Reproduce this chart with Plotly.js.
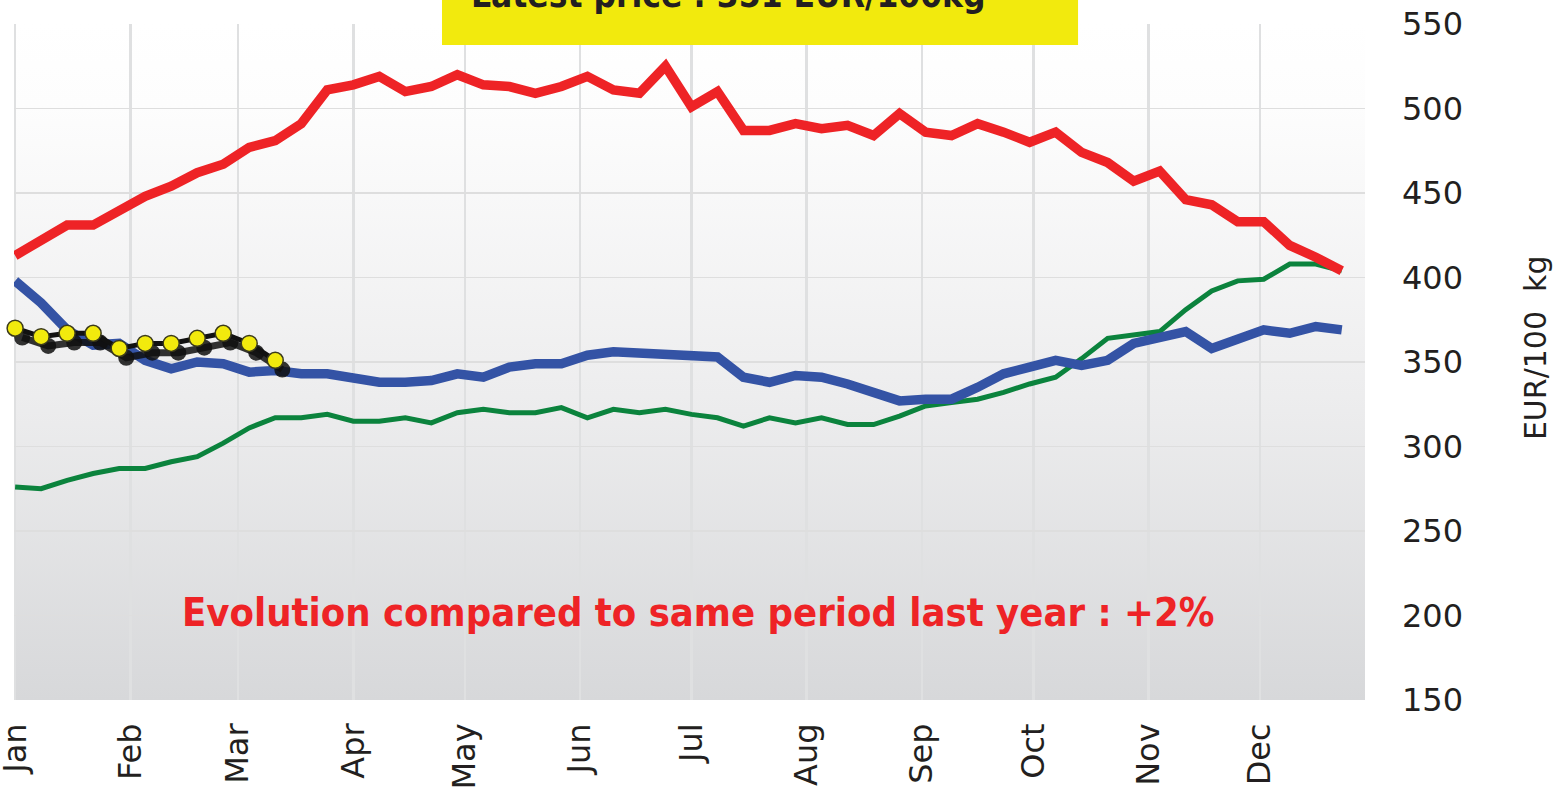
<!DOCTYPE html>
<html>
<head>
<meta charset="utf-8">
<script src="https://cdn.plot.ly/plotly-3.0.1.min.js"></script>
<style>
  html, body { margin: 0; padding: 0; background: #ffffff; }
  #chart { width: 1557px; height: 791px; }
</style>
</head>
<body>
<div id="chart"></div>
<script>
// ---- data (EUR/100 kg, weekly) ----
const startDate = '2024-01-01';
const monthLabels = ['Jan','Feb','Mar','Apr','May','Jun','Jul','Aug','Sep','Oct','Nov','Dec'];

const redSeries = [413, 422, 431, 431, 439, 448, 454, 462, 467, 477, 481, 491, 511, 514, 519, 510,
  513, 520, 514, 513, 509, 513, 519, 511, 509, 525, 501, 510, 487, 487, 491, 488,
  490, 484, 497, 486, 484, 491, 486, 480, 486, 474, 468, 457, 463, 446, 443, 433,
  433, 419, 412, 404];

const blueSeries = [398, 385, 369, 360, 361, 351, 346, 350, 349, 344, 345, 343, 343, 340, 338, 338,
  339, 343, 341, 347, 349, 349, 354, 356, 355, 355, 353, 353, 341, 338, 342, 341,
  337, 332, 327, 328, 328, 335, 343, 347, 351, 348, 351, 361, 364, 368, 358, 364,
  369, 367, 371, 369];

const greenSeries = [276, 275, 280, 284, 287, 287, 291, 294, 302, 311, 317, 317, 319, 315, 315, 317,
  314, 320, 322, 320, 320, 323, 317, 322, 320, 322, 319, 317, 312, 317, 314, 317,
  313, 313, 318, 324, 326, 328, 332, 337, 341, 352, 364, 366, 368, 381, 392, 398,
  399, 408, 408, 404];

const currentSeries = [370, 365, 367, 367, 358, 361, 361, 364, 367, 361, 351];

const latestText = 'Latest price : 351 EUR/100kg';
const evolutionText = 'Evolution compared to same period last year : +2%';
const yTitleText = 'EUR/100\u00a0\u00a0kg';

// ---- weekly dates / month starts ----
function weekDates(n) {
  const out = [];
  const base = Date.UTC(2024, 0, 1);
  for (let i = 0; i < n; i++) {
    out.push(new Date(base + i * 7 * 86400000).toISOString().slice(0, 10));
  }
  return out;
}
function monthStarts() {
  return monthLabels.map((m, i) => new Date(Date.UTC(2024, i, 1)).toISOString().slice(0, 10));
}
function fmt(ms) {
  return new Date(ms).toISOString().replace('T', ' ').replace('Z', '');
}
const dates = weekDates(redSeries.length);
const monthTicks = monthStarts();

const DAY = 86400000;
const xStart = Date.UTC(2024, 0, 1) - 0.3 * DAY;
const xEnd = Date.UTC(2024, 11, 29, 6);
const shadowDx = 1.9 * DAY;
const shadowDy = 5.5;

const red = '#ee2326', blue = '#3453a5', green = '#0b833d', yellow = '#f2ea0d';
const textCol = '#231f20';

const traces = [
  { x: dates, y: greenSeries, type: 'scatter', mode: 'lines',
    line: { color: green, width: 5 }, hoverinfo: 'skip' },
  { x: dates, y: blueSeries, type: 'scatter', mode: 'lines',
    line: { color: blue, width: 9.5 }, hoverinfo: 'skip' },
  { x: dates, y: redSeries, type: 'scatter', mode: 'lines',
    line: { color: red, width: 9.5 }, hoverinfo: 'skip' },
  // shadow of the current-year series (shifted overlay axes)
  { x: dates.slice(0, currentSeries.length), y: currentSeries, xaxis: 'x2', yaxis: 'y2',
    type: 'scatter', mode: 'lines+markers', cliponaxis: false,
    line: { color: 'rgba(15,15,15,0.85)', width: 7 },
    marker: { size: 16, color: 'rgba(15,15,15,0.85)' }, hoverinfo: 'skip' },
  // current-year series on a non-shifted overlay so it is drawn above the shadow
  { x: dates.slice(0, currentSeries.length), y: currentSeries, xaxis: 'x3', yaxis: 'y3',
    type: 'scatter', mode: 'lines+markers', cliponaxis: false,
    line: { color: '#111111', width: 5 },
    marker: { size: 16, color: yellow, line: { color: '#3b3a1c', width: 1.5 } },
    hoverinfo: 'skip' }
];

const gradSvg = "<svg xmlns='http://www.w3.org/2000/svg' width='100' height='100' viewBox='0 0 100 100' preserveAspectRatio='none'>" +
  "<defs><linearGradient id='g' x1='0' y1='0' x2='0' y2='1'>" +
  "<stop offset='0' stop-color='#ffffff'/><stop offset='0.12' stop-color='#fdfdfd'/>" +
  "<stop offset='0.55' stop-color='#ededee'/><stop offset='1' stop-color='#d7d8da'/>" +
  "</linearGradient></defs><rect x='0' y='0' width='100' height='100' fill='url(#g)'/></svg>";
const gradUrl = 'data:image/svg+xml;charset=utf-8,' + encodeURIComponent(gradSvg);

const condFont = 'DejaVu Sans Condensed, Liberation Sans Narrow, sans-serif';

const layout = {
  width: 1557, height: 791,
  margin: { l: 14, r: 192, t: 24, b: 91 },
  paper_bgcolor: '#ffffff',
  plot_bgcolor: 'rgba(0,0,0,0)',
  showlegend: false,
  font: { family: 'DejaVu Sans, Verdana, sans-serif', color: textCol },
  xaxis: {
    type: 'date',
    range: [fmt(xStart), fmt(xEnd)],
    tickmode: 'array', tickvals: monthTicks, ticktext: monthLabels,
    tickangle: -90,
    ticklabeloverflow: 'allow',
    tickfont: { size: 32, color: textCol, family: 'DejaVu Sans, sans-serif' },
    showgrid: true, gridcolor: '#dfe0e1', gridwidth: 2.5,
    zeroline: false, showline: false, ticks: '',
    ticklabelstandoff: 16
  },
  yaxis: {
    side: 'right',
    range: [150, 550],
    tickvals: [150, 200, 250, 300, 350, 400, 450, 500, 550],
    tickfont: { size: 32, color: textCol, family: 'DejaVu Sans, sans-serif' },
    showgrid: true, gridcolor: '#dedede', gridwidth: 1.5,
    zeroline: false, showline: false, ticks: '',
    ticklabelstandoff: 36
  },
  xaxis2: {
    type: 'date', overlaying: 'x', visible: false,
    range: [fmt(xStart - shadowDx), fmt(xEnd - shadowDx)]
  },
  yaxis2: {
    overlaying: 'y', visible: false,
    range: [150 + shadowDy, 550 + shadowDy]
  },
  xaxis3: {
    type: 'date', overlaying: 'x', visible: false,
    range: [fmt(xStart), fmt(xEnd)]
  },
  yaxis3: {
    overlaying: 'y', visible: false,
    range: [150, 550]
  },
  images: [{
    source: gradUrl, xref: 'paper', yref: 'paper',
    x: 0, y: 1, sizex: 1, sizey: 1, xanchor: 'left', yanchor: 'top',
    sizing: 'stretch', layer: 'below'
  }],
  shapes: [{
    type: 'rect', xref: 'paper', yref: 'paper',
    x0: 0.3168, x1: 0.7876, y0: 0.969, y1: 1.2,
    fillcolor: yellow, line: { width: 0 }, layer: 'above'
  }],
  annotations: [
    { text: '<b>' + latestText + '</b>', xref: 'paper', yref: 'paper',
      x: 0.529, y: 1.043, xanchor: 'center', yanchor: 'middle', showarrow: false,
      font: { size: 35, color: textCol, family: condFont } },
    { text: '<b>' + evolutionText + '</b>', xref: 'paper', yref: 'paper',
      x: 0.5063, y: 0.130, xanchor: 'center', yanchor: 'middle', showarrow: false,
      font: { size: 39.6, color: red, family: condFont } },
    { text: yTitleText, xref: 'paper', yref: 'paper',
      x: 1.1258, y: 0.522, xanchor: 'center', yanchor: 'middle', showarrow: false,
      textangle: -90,
      font: { size: 30, color: textCol, family: 'DejaVu Sans, sans-serif' } }
  ]
};

Plotly.newPlot('chart', traces, layout, { staticPlot: true, displayModeBar: false });
</script>
</body>
</html>
